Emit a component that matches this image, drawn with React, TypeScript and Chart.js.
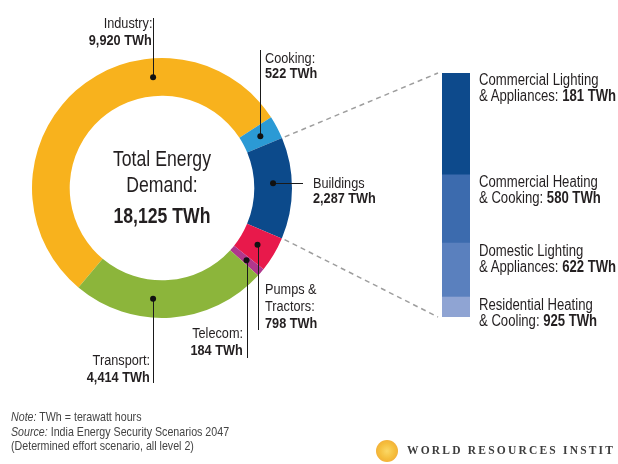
import React, { useEffect, useRef } from 'react';
import { Chart, registerables } from 'chart.js';

Chart.register(...registerables);

// ---- Data ----
const sectors = ['Industry', 'Cooking', 'Buildings', 'Pumps & Tractors', 'Telecom', 'Transport'];
const sectorValues = [9920, 522, 2287, 798, 184, 4414];
const sectorColors = ['#F8B21D', '#2B9AD5', '#0C4A8B', '#E8194B', '#B0378C', '#8CB53B'];
const sectorLabelLines = [['Industry:'], ['Cooking:'], ['Buildings'], ['Pumps &', 'Tractors:'], ['Telecom:'], ['Transport:']];
const totalDemand = 18125;

// Buildings breakdown (top to bottom as shown)
const buildingLine1 = ['Commercial Lighting', 'Commercial Heating', 'Domestic Lighting', 'Residential Heating'];
const buildingLine2 = ['& Appliances:', '& Cooking:', '& Appliances:', '& Cooling:'];
const buildingLabelValues = [181, 580, 622, 925];
// segment sizes as drawn in the source graphic (top to bottom, TWh)
const buildingBarSegments = [955, 640, 505, 187];
const buildingColors = ['#0D4A8C', '#3C6BAE', '#5A80BE', '#8FA4D3'];

const noteText = 'TWh = terawatt hours';
const sourceText = 'India Energy Security Scenarios 2047';
const sourceText2 = '(Determined effort scenario, all level 2)';

// ---- Layout ----
const W = 618;
const H = 464;
const SANS = "'Liberation Sans', Arial, sans-serif";
const SQUEEZE = 0.82; // Arial Narrow proportions
const INK = '#231F20';
const BAR_CANVAS = { left: 420, top: 60, width: 80, height: 280 };
const BAR_PAD = { left: 22, right: 30, top: 13, bottom: 23 };

// leader line layout per sector: optional dot angle (deg clockwise from top), line end
const leaderLayout: { angle?: number; toX?: number; toY?: number }[] = [
  { angle: -4.6, toY: 18 },
  { toY: 50 },
  { angle: 87.5, toX: 303 },
  { toY: 330 },
  { toY: 358 },
  { angle: 184.6, toY: 383 },
];

// label text layout per sector: anchor x, align, first baseline, line gap
const labelLayout: { x: number; align: 'left' | 'right'; y: number; gap: number }[] = [
  { x: 152, align: 'right', y: 28, gap: 17 },
  { x: 265, align: 'left', y: 63, gap: 15 },
  { x: 313, align: 'left', y: 188, gap: 15 },
  { x: 265, align: 'left', y: 294, gap: 17 },
  { x: 243, align: 'right', y: 338, gap: 17 },
  { x: 150, align: 'right', y: 365, gap: 17 },
];

const fmt = (v: number) => v.toLocaleString('en-US') + ' TWh';

function Txt(props: {
  x: number; y: number; size: number; align?: 'left' | 'right' | 'center';
  bold?: boolean; color?: string; font?: string; children: React.ReactNode; spacing?: number; sx?: number;
}) {
  const { x, y, size, align = 'left', bold, color = INK, font = SANS, children, spacing, sx = SQUEEZE } = props;
  const top = y - 0.8465 * size;
  const style: React.CSSProperties = {
    position: 'absolute', top, fontSize: size, lineHeight: size + 'px', whiteSpace: 'nowrap',
    fontWeight: bold ? 700 : 400, color, fontFamily: font, letterSpacing: spacing,
    transform: sx !== 1 ? `scaleX(${sx})` : undefined,
  };
  if (align === 'left') { style.left = x; style.transformOrigin = 'left center'; }
  else if (align === 'right') { style.right = W - x; style.transformOrigin = 'right center'; }
  else { style.left = x - 200; style.width = 400; style.textAlign = 'center'; style.transformOrigin = 'center center'; }
  return <div style={style}>{children}</div>;
}

export default function App() {
  const donutRef = useRef<HTMLCanvasElement>(null);
  const barRef = useRef<HTMLCanvasElement>(null);

  useEffect(() => {
    if (!donutRef.current || !barRef.current) return;
    const barTotal = buildingBarSegments.reduce((a, b) => a + b, 0);
    const bottomUp = buildingBarSegments.map((v, i) => ({ v, c: buildingColors[i], l: buildingLine1[i] })).reverse();

    const barChart = new Chart(barRef.current, {
      type: 'bar',
      data: {
        labels: ['Buildings'],
        datasets: bottomUp.map((d) => ({
          label: d.l, data: [d.v], backgroundColor: d.c, borderWidth: 0,
          barPercentage: 1, categoryPercentage: 1,
        })),
      },
      options: {
        responsive: false, animation: false,
        layout: { padding: BAR_PAD },
        scales: {
          x: { stacked: true, display: false },
          y: { stacked: true, display: false, min: 0, max: barTotal },
        },
        plugins: { legend: { display: false }, tooltip: { enabled: false } },
      },
    });

    const leaderPlugin = {
      id: 'leaders',
      afterDatasetsDraw(chart: any) {
        const ctx = chart.ctx as CanvasRenderingContext2D;
        const arcs = chart.getDatasetMeta(0).data;
        ctx.save();
        // dashed zoom lines from Buildings slice to the breakdown bar
        const topEl: any = barChart.getDatasetMeta(bottomUp.length - 1).data[0];
        const botEl: any = barChart.getDatasetMeta(0).data[0];
        const tp = topEl.getProps(['x', 'y', 'width'], true);
        const bp = botEl.getProps(['x', 'base', 'width'], true);
        const barLeft = BAR_CANVAS.left + tp.x - tp.width / 2 - 4;
        const barTop = BAR_CANVAS.top + tp.y;
        const barBottom = BAR_CANVAS.top + bp.base;
        const b = arcs[2].getProps(['x', 'y', 'startAngle', 'endAngle', 'outerRadius'], true);
        const r0 = b.outerRadius + 3;
        ctx.setLineDash([5, 4]);
        ctx.strokeStyle = '#9E9E9E';
        ctx.lineWidth = 1.5;
        ctx.beginPath();
        ctx.moveTo(b.x + r0 * Math.cos(b.startAngle), b.y + r0 * Math.sin(b.startAngle));
        ctx.lineTo(barLeft, barTop);
        ctx.moveTo(b.x + r0 * Math.cos(b.endAngle), b.y + r0 * Math.sin(b.endAngle));
        ctx.lineTo(barLeft, barBottom);
        ctx.stroke();
        ctx.setLineDash([]);
        // leader lines + dots
        arcs.forEach((arc: any, i: number) => {
          const p = arc.getProps(['x', 'y', 'startAngle', 'endAngle', 'innerRadius', 'outerRadius'], true);
          const cfg = leaderLayout[i];
          const a = cfg.angle !== undefined ? ((cfg.angle - 90) * Math.PI) / 180 : (p.startAngle + p.endAngle) / 2;
          const r = (p.innerRadius + p.outerRadius) / 2;
          const dx = p.x + r * Math.cos(a);
          const dy = p.y + r * Math.sin(a);
          ctx.strokeStyle = '#1a1a1a';
          ctx.lineWidth = 1;
          ctx.beginPath();
          if (cfg.toY !== undefined) {
            const lx = Math.round(dx) + 0.5;
            ctx.moveTo(lx, dy);
            ctx.lineTo(lx, cfg.toY);
          } else if (cfg.toX !== undefined) {
            const ly = Math.round(dy) + 0.5;
            ctx.moveTo(dx, ly);
            ctx.lineTo(cfg.toX, ly);
          }
          ctx.stroke();
          ctx.fillStyle = '#111';
          ctx.beginPath();
          ctx.arc(dx, dy, 3, 0, Math.PI * 2);
          ctx.fill();
        });
        ctx.restore();
      },
    };

    const donut = new Chart(donutRef.current, {
      type: 'doughnut',
      data: {
        labels: sectors,
        datasets: [{ data: sectorValues, backgroundColor: sectorColors, borderWidth: 0 }],
      },
      options: {
        responsive: false, animation: false,
        rotation: -140,
        cutout: '71%',
        layout: { padding: { left: 32, top: 58, right: 326, bottom: 146 } },
        plugins: { legend: { display: false }, tooltip: { enabled: false } },
      },
      plugins: [leaderPlugin],
    });

    return () => {
      donut.destroy();
      barChart.destroy();
    };
  }, []);

  // bar label positions derived from segment data
  const barTotal = buildingBarSegments.reduce((a, b) => a + b, 0);
  const barAreaTop = BAR_CANVAS.top + BAR_PAD.top;
  const barAreaH = BAR_CANVAS.height - BAR_PAD.top - BAR_PAD.bottom;
  let acc = 0;
  const barLabelTops = buildingBarSegments.map((v) => {
    const t = barAreaTop + (acc / barTotal) * barAreaH;
    acc += v;
    return t;
  });

  return (
    <div style={{ position: 'absolute', left: 0, top: 0, width: W, height: H, background: '#fff', overflow: 'hidden', fontFamily: SANS }}>
      <canvas ref={donutRef} width={W} height={H} style={{ position: 'absolute', left: 0, top: 0 }} />
      <canvas ref={barRef} width={BAR_CANVAS.width} height={BAR_CANVAS.height}
        style={{ position: 'absolute', left: BAR_CANVAS.left, top: BAR_CANVAS.top }} />

      {/* centre text */}
      <Txt x={162} y={167} size={21.5} align="center">Total Energy</Txt>
      <Txt x={162} y={193} size={21.5} align="center">Demand:</Txt>
      <Txt x={162} y={224} size={21.5} align="center" bold>{fmt(totalDemand)}</Txt>

      {/* sector labels */}
      {sectors.map((s, i) => {
        const L = labelLayout[i];
        const lines = sectorLabelLines[i];
        return (
          <React.Fragment key={s}>
            {lines.map((ln, j) => (
              <Txt key={j} x={L.x} y={L.y + j * L.gap} size={15.5} align={L.align}>{ln}</Txt>
            ))}
            <Txt x={L.x} y={L.y + lines.length * L.gap} size={15.5} align={L.align} bold>{fmt(sectorValues[i])}</Txt>
          </React.Fragment>
        );
      })}

      {/* buildings breakdown labels */}
      {buildingLine1.map((l1, i) => (
        <React.Fragment key={l1}>
          <Txt x={479} y={barLabelTops[i] + 13} size={16}>{l1}</Txt>
          <Txt x={479} y={barLabelTops[i] + 29} size={16}>
            {buildingLine2[i]} <b>{fmt(buildingLabelValues[i])}</b>
          </Txt>
        </React.Fragment>
      ))}

      {/* notes */}
      <Txt x={11} y={421} size={13} color="#444"><i>Note:</i> {noteText}</Txt>
      <Txt x={11} y={436} size={13} color="#444"><i>Source:</i> {sourceText}</Txt>
      <Txt x={11} y={450} size={13} color="#444">{sourceText2}</Txt>

      {/* WRI logo */}
      <div style={{
        position: 'absolute', left: 376, top: 440, width: 22, height: 22, borderRadius: '50%',
        background: 'radial-gradient(circle, #FBD866 0%, #F5BE3C 50%, #F3B23A 70%, rgba(246,190,80,0.25) 100%)',
        filter: 'blur(0.6px)',
      }} />
      <Txt x={407} y={455} size={11.5} color="#3d3d3d" font="'Liberation Serif', 'DejaVu Serif', serif" spacing={2.2} sx={1}>
        <span style={{ fontWeight: 600 }}>WORLD RESOURCES INSTIT</span>
      </Txt>
    </div>
  );
}
